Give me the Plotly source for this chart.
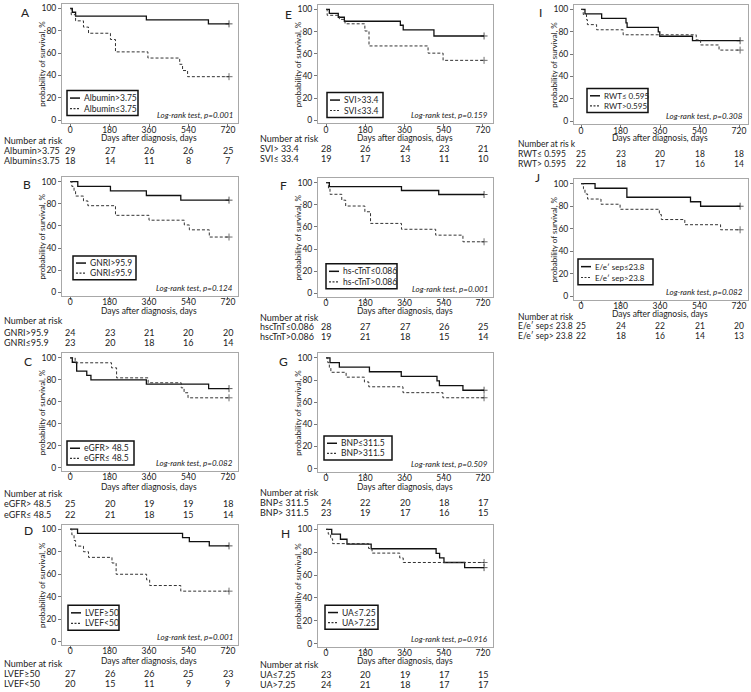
import plotly.graph_objects as go

W, H = 751, 692

# ---------------- data ----------------
panel_letters = ["A", "B", "C", "D", "E", "F", "G", "H", "I", "J"]
x_ticks = [0, 180, 360, 540, 720]
y_ticks = [0, 20, 40, 60, 80, 100]
p_values = ["0.001", "0.124", "0.082", "0.001", "0.159", "0.001", "0.509", "0.916", "0.308", "0.082"]

legend_g1 = ["Albumin>3.75", "GNRI>95.9", "eGFR> 48.5", "LVEF≥50", "SVI>33.4",
             "hs-cTnT≤0.086", "BNP≤311.5", "UA≤7.25", "RWT≤ 0.595", "E/e′ sep≤23.8"]
legend_g2 = ["Albumin≤3.75", "GNRI≤95.9", "eGFR≤ 48.5", "LVEF<50", "SVI≤33.4",
             "hs-cTnT>0.086", "BNP>311.5", "UA>7.25", "RWT>0.595", "E/e′ sep>23.8"]
risk_label_g1 = ["Albumin>3.75", "GNRI>95.9", "eGFR> 48.5", "LVEF≥50", "SVI> 33.4",
                 "hscTnT≤0.086", "BNP≤ 311.5", "UA≤7.25", "RWT≤ 0.595", "E/e′ sep≤ 23.8"]
risk_label_g2 = ["Albumin≤3.75", "GNRI≤95.9", "eGFR≤ 48.5", "LVEF<50", "SVI≤ 33.4",
                 "hscTnT>0.086", "BNP> 311.5", "UA>7.25", "RWT> 0.595", "E/e′ sep> 23.8"]
risk_header = ["Number at risk"] * 8 + ["Number at ris k", "Number at risk"]

A_risk_1 = [29, 27, 26, 26, 25]; A_risk_2 = [18, 14, 11, 8, 7]
B_risk_1 = [24, 23, 21, 20, 20]; B_risk_2 = [23, 20, 18, 16, 14]
C_risk_1 = [25, 20, 19, 19, 18]; C_risk_2 = [22, 21, 18, 15, 14]
D_risk_1 = [27, 26, 26, 25, 23]; D_risk_2 = [20, 15, 11, 9, 9]
E_risk_1 = [28, 26, 24, 23, 21]; E_risk_2 = [19, 17, 13, 11, 10]
F_risk_1 = [28, 27, 27, 26, 25]; F_risk_2 = [19, 21, 18, 15, 14]
G_risk_1 = [24, 22, 20, 18, 17]; G_risk_2 = [23, 19, 17, 16, 15]
H_risk_1 = [23, 20, 19, 17, 15]; H_risk_2 = [24, 21, 18, 17, 17]
I_risk_1 = [25, 23, 20, 18, 18]; I_risk_2 = [22, 18, 17, 16, 14]
J_risk_1 = [25, 24, 22, 21, 20]; J_risk_2 = [22, 18, 16, 14, 13]

# event times (days) and survival (%) after each step; group 1 = solid, group 2 = dashed
A_t1 = [10, 25, 348, 631]; A_s1 = [96.6, 93.1, 89.7, 86.2]
A_t2 = [5, 25, 61, 84, 184, 207, 355, 500, 513, 536]
A_s2 = [94.4, 88.9, 83.3, 77.8, 72.2, 61.1, 55.6, 50.0, 44.4, 38.9]
B_t1 = [35, 184, 348, 505]; B_s1 = [95.8, 91.7, 87.5, 83.3]
B_t2 = [8, 18, 25, 61, 81, 207, 360, 521, 544, 635]
B_s2 = [95.7, 91.3, 87.0, 82.6, 78.3, 69.6, 65.2, 60.9, 56.5, 50.0]
C_t1 = [10, 30, 76, 95, 348, 632]; C_s1 = [96.0, 88.0, 84.0, 80.0, 76.0, 72.0]
C_t2 = [23, 189, 212, 356, 507, 520, 538]
C_s2 = [95.5, 90.9, 81.8, 77.3, 72.7, 68.2, 63.6]
D_t1 = [34, 513, 544, 635]; D_s1 = [96.3, 92.6, 88.9, 85.2]
D_t2 = [8, 18, 25, 61, 84, 191, 210, 349, 363, 505]
D_s2 = [95.0, 90.0, 85.0, 80.0, 75.0, 70.0, 60.0, 55.0, 50.0, 45.0]
E_t1 = [15, 56, 84, 341, 354, 495]; E_s1 = [96.4, 92.9, 89.3, 85.7, 81.5, 76.0]
E_t2 = [5, 61, 87, 178, 197, 468, 537]
E_s2 = [94.7, 91.0, 87.0, 80.5, 67.0, 60.5, 54.0]
F_t1 = [15, 346, 517]; F_s1 = [96.4, 92.9, 89.3]
F_t2 = [11, 18, 72, 90, 178, 204, 346, 503, 628]
F_s2 = [94.7, 89.5, 84.2, 78.9, 73.7, 63.2, 57.9, 52.6, 46.6]
G_t1 = [18, 61, 199, 345, 509, 520, 628]; G_s1 = [95.8, 91.7, 87.5, 83.3, 79.2, 75.0, 70.8]
G_t2 = [8, 15, 22, 92, 176, 196, 353, 536]
G_s2 = [95.7, 91.3, 87.0, 82.6, 78.3, 73.9, 68.6, 64.0]
H_t1 = [26, 66, 96, 207, 505, 521, 541, 636]
H_s1 = [95.7, 91.3, 87.0, 83.0, 79.0, 75.0, 71.0, 66.5]
H_t2 = [10, 21, 30, 195, 211, 338, 354]
H_s2 = [95.8, 91.7, 87.5, 83.3, 79.2, 75.0, 71.0]
I_t1 = [18, 94, 205, 210, 352, 359, 508]; I_s1 = [96.0, 92.0, 88.0, 84.0, 80.0, 76.0, 72.0]
I_t2 = [10, 25, 29, 71, 192, 525, 545, 629]
I_s2 = [95.5, 90.9, 86.4, 81.8, 77.3, 72.7, 68.2, 63.6]
J_t1 = [64, 209, 499, 545]; J_s1 = [96.0, 88.0, 84.0, 80.0]
J_t2 = [11, 18, 30, 91, 178, 357, 366, 473, 636]
J_s2 = [95.5, 90.9, 86.4, 81.8, 77.3, 72.7, 68.2, 63.6, 59.1]
last_follow_up = 725

curves_1 = [(A_t1, A_s1), (B_t1, B_s1), (C_t1, C_s1), (D_t1, D_s1), (E_t1, E_s1),
            (F_t1, F_s1), (G_t1, G_s1), (H_t1, H_s1), (I_t1, I_s1), (J_t1, J_s1)]
curves_2 = [(A_t2, A_s2), (B_t2, B_s2), (C_t2, C_s2), (D_t2, D_s2), (E_t2, E_s2),
            (F_t2, F_s2), (G_t2, G_s2), (H_t2, H_s2), (I_t2, I_s2), (J_t2, J_s2)]
risk_1 = [A_risk_1, B_risk_1, C_risk_1, D_risk_1, E_risk_1, F_risk_1, G_risk_1, H_risk_1, I_risk_1, J_risk_1]
risk_2 = [A_risk_2, B_risk_2, C_risk_2, D_risk_2, E_risk_2, F_risk_2, G_risk_2, H_risk_2, I_risk_2, J_risk_2]

# ---------------- layout geometry (pixels) ----------------
cols = {
    1: dict(L=62, R=238, xr=[-37, 766], lab_x=2, ytitle_x=42, rfs=9, lfs=8.5),
    2: dict(L=318, R=493, xr=[-37, 766], lab_x=258, ytitle_x=298, rfs=9, lfs=8.5),
    3: dict(L=574, R=748, xr=[-32, 761], lab_x=516, ytitle_x=554, rfs=8.5, lfs=8),
}
geo = [
    dict(col=1, T=3, B=123, let=(26, 12), xt=138, nar=140, r1=150, r2=160, lg=(67, 138, 90, 115)),
    dict(col=1, T=177, B=296, let=(27, 184), xt=311, nar=321, r1=333, r2=343, lg=(73, 136, 256, 280)),
    dict(col=1, T=354, B=472, let=(28, 362), xt=488, nar=495, r1=505, r2=516, lg=(67, 134, 442, 466)),
    dict(col=1, T=526, B=647, let=(28, 532), xt=663, nar=665, r1=675, r2=685, lg=(68, 119, 607, 632)),
    dict(col=2, T=4, B=123, let=(288, 14), xt=138, nar=138, r1=148, r2=158, lg=(327, 383, 92, 117)),
    dict(col=2, T=178, B=297, let=(283, 185), xt=311, nar=318, r1=327, r2=337, lg=(326, 397, 264, 289)),
    dict(col=2, T=354, B=473, let=(283, 362), xt=488, nar=494, r1=504, r2=514, lg=(324, 392, 437, 461)),
    dict(col=2, T=526, B=649, let=(285, 535), xt=663, nar=666, r1=676, r2=686, lg=(325, 378, 607, 631)),
    dict(col=3, T=4, B=124, let=(540, 12), xt=138, nar=144, r1=154, r2=164, lg=(587, 648, 88, 112)),
    dict(col=3, T=179, B=300, let=(537, 177), xt=314, nar=317, r1=326, r2=336, lg=(578, 653, 259, 285)),
]

FONT = "Lato"
TXT = "#222222"
px = lambda v: v / W
py = lambda v: 1 - v / H

fig = go.Figure()
layout = dict(width=W, height=H, margin=dict(l=0, r=0, t=0, b=0),
              paper_bgcolor="white", plot_bgcolor="white", showlegend=False,
              font=dict(family=FONT, size=9, color=TXT))
annotations = []
shapes = []

for i, g in enumerate(geo):
    n = i + 1
    c = cols[g["col"]]
    rfs = c["rfs"]
    xa = "x" if n == 1 else f"x{n}"
    ya = "y" if n == 1 else f"y{n}"
    xkey = "xaxis" if n == 1 else f"xaxis{n}"
    ykey = "yaxis" if n == 1 else f"yaxis{n}"
    layout[xkey] = dict(domain=[px(c["L"]), px(c["R"])], range=c["xr"], anchor=ya,
                        showline=True, mirror=True, linecolor="#a8a8a8", linewidth=1,
                        ticks="outside", ticklen=3, tickcolor="#777", tickvals=x_ticks,
                        tickfont=dict(size=8.5, color=TXT, family=FONT), showgrid=False,
                        zeroline=False, ticklabelstandoff=-5)
    layout[ykey] = dict(domain=[py(g["B"]), py(g["T"])], range=[-3, 104], anchor=xa,
                        showline=True, mirror=True, linecolor="#a8a8a8", linewidth=1,
                        ticks="outside", ticklen=3, tickcolor="#777", tickvals=y_ticks,
                        tickfont=dict(size=8.5, color=TXT, family=FONT), showgrid=False,
                        zeroline=False)

    for (t, s), dash, col, wid, name in [
        (curves_1[i], "solid", "#111111", 1.3, legend_g1[i]),
        (curves_2[i], "3px,2px", "#333333", 1.0, legend_g2[i]),
    ]:
        xs = [0] + list(t) + [last_follow_up]
        ys = [100] + list(s) + [s[-1]]
        sizes = [0] * (len(xs) - 1) + [5]
        fig.add_trace(go.Scatter(x=xs, y=ys, mode="lines+markers", line=dict(shape="hv", dash=dash, color=col, width=wid),
                                 marker=dict(symbol="cross-thin", size=sizes, line=dict(width=1, color=col)),
                                 xaxis=xa, yaxis=ya, name=name, hoverinfo="skip"))

    # panel letter
    annotations.append(dict(text=panel_letters[i], x=px(g["let"][0]), y=py(g["let"][1]), xref="paper", yref="paper",
                            showarrow=False, xanchor="center", yanchor="middle", font=dict(size=12, color=TXT)))
    # y title
    annotations.append(dict(text="probability of survival, %", textangle=-90, x=px(c["ytitle_x"]),
                            y=py((g["T"] + g["B"]) / 2), xref="paper", yref="paper", showarrow=False,
                            xanchor="center", yanchor="middle", font=dict(size=8, color=TXT)))
    # x title
    annotations.append(dict(text="Days after diagnosis, days", x=360, xref=xa, y=py(g["xt"]), yref="paper",
                            showarrow=False, xanchor="center", yanchor="middle", font=dict(size=8.5, color=TXT)))
    # log-rank
    annotations.append(dict(text=f"<i>Log-rank test, p={p_values[i]}</i>", x=1, xref=f"{xa} domain", y=0,
                            yref=f"{ya} domain", xanchor="right", yanchor="bottom", xshift=-3, yshift=1,
                            showarrow=False, font=dict(size=8, color=TXT)))
    # number at risk
    annotations.append(dict(text=risk_header[i], x=px(c["lab_x"]), y=py(g["nar"]), xref="paper", yref="paper",
                            xanchor="left", yanchor="middle", showarrow=False, font=dict(size=rfs, color=TXT)))
    for lab, vals, yy in [(risk_label_g1[i], risk_1[i], g["r1"]), (risk_label_g2[i], risk_2[i], g["r2"])]:
        annotations.append(dict(text=lab, x=px(c["lab_x"]), y=py(yy), xref="paper", yref="paper",
                                xanchor="left", yanchor="middle", showarrow=False, font=dict(size=rfs, color=TXT)))
        for xv, v in zip(x_ticks, vals):
            annotations.append(dict(text=str(v), x=xv, xref=xa, y=py(yy), yref="paper", xanchor="center",
                                    yanchor="middle", showarrow=False, font=dict(size=rfs, color=TXT)))

    # legend box
    x0, x1, y0, y1 = g["lg"]
    shapes.append(dict(type="rect", xref="paper", yref="paper", x0=px(x0), x1=px(x1), y0=py(y1), y1=py(y0),
                       line=dict(color="#111", width=1.5), fillcolor="white", layer="above"))
    ya1 = y0 + (y1 - y0) * 0.3
    ya2 = y0 + (y1 - y0) * 0.72
    shapes.append(dict(type="line", xref="paper", yref="paper", x0=px(x0 + 3), x1=px(x0 + 13), y0=py(ya1), y1=py(ya1),
                       line=dict(color="#111", width=1.5)))
    shapes.append(dict(type="line", xref="paper", yref="paper", x0=px(x0 + 3), x1=px(x0 + 13), y0=py(ya2), y1=py(ya2),
                       line=dict(color="#333", width=1.2, dash="2px,1.5px")))
    for lab, yy in [(legend_g1[i], ya1), (legend_g2[i], ya2)]:
        annotations.append(dict(text=lab, x=px(x0 + 15), y=py(yy), xref="paper", yref="paper", xanchor="left",
                                yanchor="middle", showarrow=False, font=dict(size=c["lfs"], color=TXT)))

layout["annotations"] = annotations
layout["shapes"] = shapes
fig.update_layout(**layout)
fig.write_html("out.html", config={"displayModeBar": False},
               post_script="document.body.style.margin='0';document.body.style.padding='0';document.body.style.overflow='hidden';")
